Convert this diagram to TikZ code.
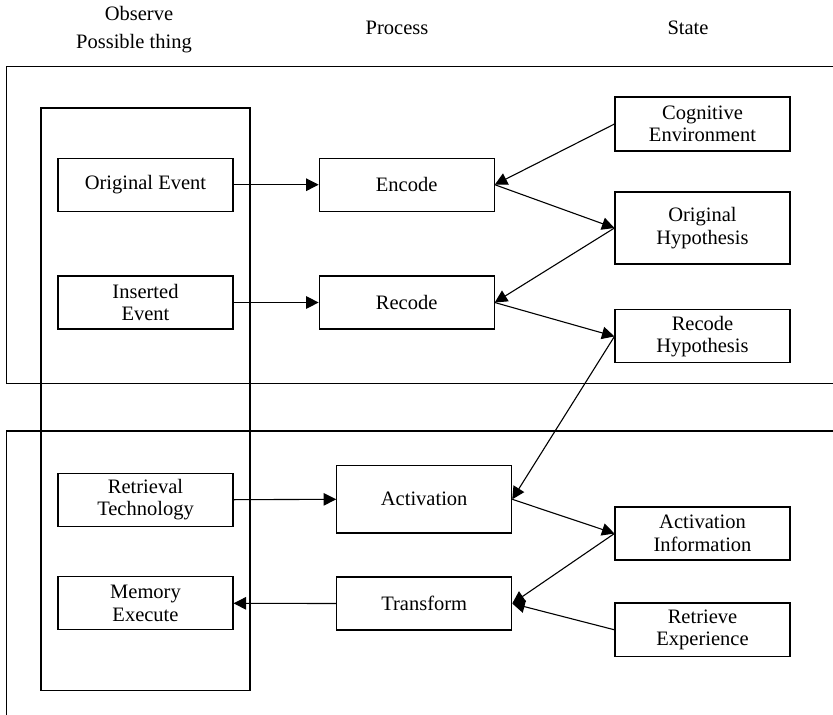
\documentclass[tikz,border=0pt]{standalone}
\usepackage{fontspec}
\setmainfont{Liberation Serif}
\usetikzlibrary{arrows.meta}
\begin{document}
\begin{tikzpicture}[x=1pt,y=-1pt,
  every node/.style={font=\fontsize{20.5}{22.5}\selectfont},
  box/.style={draw,line width=1.1pt,align=center,inner sep=0pt,
    minimum width=175pt,minimum height=53pt},
  frame/.style={line width=1.1pt},
  link/.style={line width=1.1pt,-{Triangle[length=12.5pt,width=12.5pt]}},
  head/.style={anchor=base}]
\useasboundingbox (0,0) rectangle (833,715);

% column headings
\node[head] (hobs) at (139,20.7) {Observe};
\node[head] (hpos) at (134,48) {Possible thing};
\node[head] (hproc) at (397,34) {Process};
\node[head] (hstate) at (688,34) {State};

% stage frames, open to the right
\draw[frame] (840,66.5) -- (6.5,66.5) -- (6.5,383.3) -- (840,383.3);
\draw[frame] (840,431) -- (6.5,431) -- (6.5,720);

% column of observable things
\draw[frame] (41,108) rectangle (250,690.7);

% observe column
\node[box] (orig) at (145.5,184.7) {Original Event};
\node[box] (ins) at (145.5,302.5) {Inserted\\Event};
\node[box] (retr) at (145.5,499.7) {Retrieval\\Technology};
\node[box] (mem) at (145.5,603.3) {Memory\\Execute};

% process column
\node[box] (enc) at (406.7,184.7) {Encode};
\node[box] (rec) at (406.7,302.5) {Recode};
\node[box,minimum height=67.3pt] (act) at (424.2,499.3) {Activation};
\node[box] (trans) at (424.2,603.5) {Transform};

% state column
\node[box,minimum height=54pt] (cog) at (702.5,124) {Cognitive\\Environment};
\node[box,minimum height=72pt] (ohyp) at (702.5,228) {Original\\Hypothesis};
\node[box] (rhyp) at (702.5,336.4) {Recode\\Hypothesis};
\node[box] (ainf) at (702.5,533.5) {Activation\\Information};
\node[box,minimum height=53.7pt] (rexp) at (702.5,629.8) {Retrieve\\Experience};

% connectors
\draw[link] (orig.east) -- (enc.west);
\draw[link] (ins.east) -- (rec.west);
\draw[link] (retr.east) -- (act.west);
\draw[link] (trans.west) -- (mem.east);
\draw[link] (cog.west) -- (enc.east);
\draw[link] (enc.east) -- (ohyp.west);
\draw[link] (ohyp.west) -- (rec.east);
\draw[link] (rec.east) -- (rhyp.west);
\draw[link] (rhyp.west) -- (act.east);
\draw[link] (act.east) -- (ainf.west);
\draw[link] (ainf.west) -- (trans.east);
\draw[link] (rexp.west) -- (trans.east);
\end{tikzpicture}
\end{document}
